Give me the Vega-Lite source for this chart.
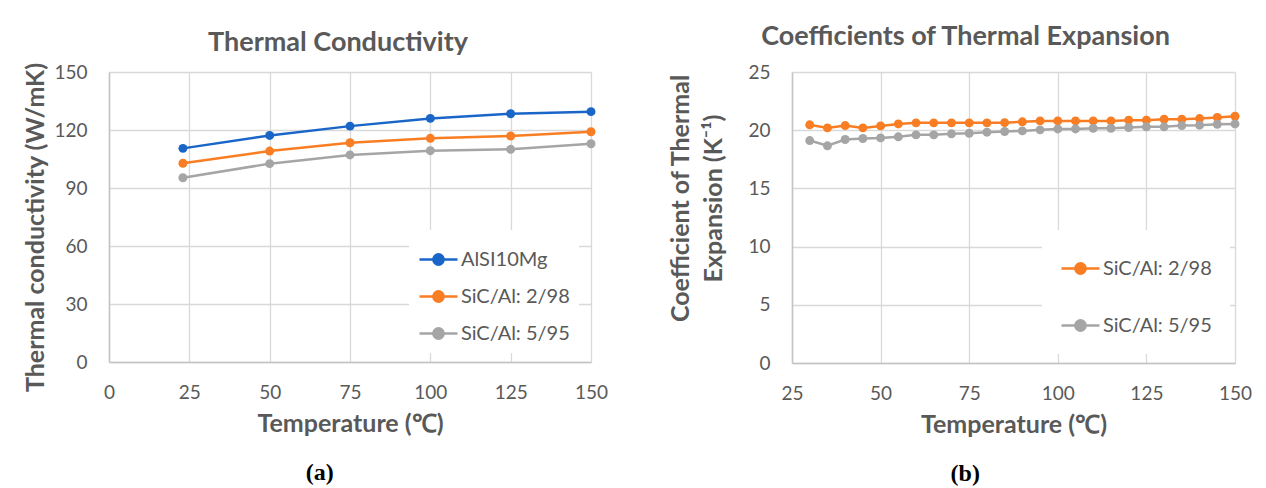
{
  "$schema": "https://vega.github.io/schema/vega-lite/v6.json",
  "padding": {"left": 23, "top": 23, "right": 4, "bottom": 0},
  "datasets": {
    "tc": [
      {"T": 23, "material": "AlSI10Mg", "value": 110.5},
      {"T": 50, "material": "AlSI10Mg", "value": 117.2},
      {"T": 75, "material": "AlSI10Mg", "value": 122.0},
      {"T": 100, "material": "AlSI10Mg", "value": 126.0},
      {"T": 125, "material": "AlSI10Mg", "value": 128.4},
      {"T": 150, "material": "AlSI10Mg", "value": 129.5},
      {"T": 23, "material": "SiC/Al: 2/98", "value": 102.8},
      {"T": 50, "material": "SiC/Al: 2/98", "value": 109.1},
      {"T": 75, "material": "SiC/Al: 2/98", "value": 113.4},
      {"T": 100, "material": "SiC/Al: 2/98", "value": 115.7},
      {"T": 125, "material": "SiC/Al: 2/98", "value": 116.9},
      {"T": 150, "material": "SiC/Al: 2/98", "value": 119.1},
      {"T": 23, "material": "SiC/Al: 5/95", "value": 95.3},
      {"T": 50, "material": "SiC/Al: 5/95", "value": 102.6},
      {"T": 75, "material": "SiC/Al: 5/95", "value": 107.1},
      {"T": 100, "material": "SiC/Al: 5/95", "value": 109.3},
      {"T": 125, "material": "SiC/Al: 5/95", "value": 110.0},
      {"T": 150, "material": "SiC/Al: 5/95", "value": 112.9}
    ],
    "cte": [
      {"T": 30, "material": "SiC/Al: 2/98", "value": 20.46},
      {"T": 35, "material": "SiC/Al: 2/98", "value": 20.2},
      {"T": 40, "material": "SiC/Al: 2/98", "value": 20.4},
      {"T": 45, "material": "SiC/Al: 2/98", "value": 20.2},
      {"T": 50, "material": "SiC/Al: 2/98", "value": 20.37},
      {"T": 55, "material": "SiC/Al: 2/98", "value": 20.54},
      {"T": 60, "material": "SiC/Al: 2/98", "value": 20.63},
      {"T": 65, "material": "SiC/Al: 2/98", "value": 20.63},
      {"T": 70, "material": "SiC/Al: 2/98", "value": 20.63},
      {"T": 75, "material": "SiC/Al: 2/98", "value": 20.63},
      {"T": 80, "material": "SiC/Al: 2/98", "value": 20.63},
      {"T": 85, "material": "SiC/Al: 2/98", "value": 20.65},
      {"T": 90, "material": "SiC/Al: 2/98", "value": 20.72},
      {"T": 95, "material": "SiC/Al: 2/98", "value": 20.8},
      {"T": 100, "material": "SiC/Al: 2/98", "value": 20.8},
      {"T": 105, "material": "SiC/Al: 2/98", "value": 20.8},
      {"T": 110, "material": "SiC/Al: 2/98", "value": 20.8},
      {"T": 115, "material": "SiC/Al: 2/98", "value": 20.8},
      {"T": 120, "material": "SiC/Al: 2/98", "value": 20.86},
      {"T": 125, "material": "SiC/Al: 2/98", "value": 20.86},
      {"T": 130, "material": "SiC/Al: 2/98", "value": 20.94},
      {"T": 135, "material": "SiC/Al: 2/98", "value": 20.94},
      {"T": 140, "material": "SiC/Al: 2/98", "value": 21.0},
      {"T": 145, "material": "SiC/Al: 2/98", "value": 21.1},
      {"T": 150, "material": "SiC/Al: 2/98", "value": 21.2},
      {"T": 30, "material": "SiC/Al: 5/95", "value": 19.11},
      {"T": 35, "material": "SiC/Al: 5/95", "value": 18.66},
      {"T": 40, "material": "SiC/Al: 5/95", "value": 19.2},
      {"T": 45, "material": "SiC/Al: 5/95", "value": 19.29},
      {"T": 50, "material": "SiC/Al: 5/95", "value": 19.34},
      {"T": 55, "material": "SiC/Al: 5/95", "value": 19.43},
      {"T": 60, "material": "SiC/Al: 5/95", "value": 19.6},
      {"T": 65, "material": "SiC/Al: 5/95", "value": 19.6},
      {"T": 70, "material": "SiC/Al: 5/95", "value": 19.69},
      {"T": 75, "material": "SiC/Al: 5/95", "value": 19.74},
      {"T": 80, "material": "SiC/Al: 5/95", "value": 19.83},
      {"T": 85, "material": "SiC/Al: 5/95", "value": 19.89},
      {"T": 90, "material": "SiC/Al: 5/95", "value": 19.94},
      {"T": 95, "material": "SiC/Al: 5/95", "value": 20.03},
      {"T": 100, "material": "SiC/Al: 5/95", "value": 20.11},
      {"T": 105, "material": "SiC/Al: 5/95", "value": 20.11},
      {"T": 110, "material": "SiC/Al: 5/95", "value": 20.17},
      {"T": 115, "material": "SiC/Al: 5/95", "value": 20.17},
      {"T": 120, "material": "SiC/Al: 5/95", "value": 20.23},
      {"T": 125, "material": "SiC/Al: 5/95", "value": 20.29},
      {"T": 130, "material": "SiC/Al: 5/95", "value": 20.29},
      {"T": 135, "material": "SiC/Al: 5/95", "value": 20.4},
      {"T": 140, "material": "SiC/Al: 5/95", "value": 20.43},
      {"T": 145, "material": "SiC/Al: 5/95", "value": 20.51},
      {"T": 150, "material": "SiC/Al: 5/95", "value": 20.54}
    ]
  },
  "hconcat": [
    {
      "title": {"text": "(a)", "orient": "bottom", "anchor": "middle", "font": "Liberation Serif", "fontSize": 24, "fontWeight": "bold", "color": "#000000", "offset": 25, "dx": 4},
      "vconcat": [
        {
          "width": 482,
          "height": 290,
          "title": {"text": "Thermal Conductivity", "frame": "group", "anchor": "middle", "dx": -12, "offset": 5},
          "data": {"name": "tc"},
          "mark": {"type": "line", "strokeWidth": 2.5, "point": {"filled": true, "size": 80, "opacity": 1}},
          "encoding": {
            "x": {"field": "T", "type": "quantitative", "scale": {"domain": [0, 150], "nice": false, "zero": false}, "axis": {"values": [0, 25, 50, 75, 100, 125, 150], "title": "Temperature (℃)"}},
            "y": {"field": "value", "type": "quantitative", "scale": {"domain": [0, 150], "nice": false}, "axis": {"values": [0, 30, 60, 90, 120, 150], "title": "Thermal conductivity (W/mK)", "titlePadding": 5, "titleY": 155}},
            "color": {
              "field": "material", "type": "nominal",
              "scale": {"domain": ["AlSI10Mg", "SiC/Al: 2/98", "SiC/Al: 5/95"], "range": ["#1A66C8", "#F97D23", "#A5A5A5"]},
              "legend": {
                "title": null, "orient": "none", "legendX": 300, "legendY": 158, "padding": 9, "rowPadding": 6,
                "encode": {"symbols": {"update": {"fill": {"signal": "datum.value == 'AlSI10Mg' ? '#1A66C8' : datum.value == 'SiC/Al: 2/98' ? '#F97D23' : '#A5A5A5'"}, "fillOpacity": {"value": 1}, "opacity": {"value": 1}}}}
              }
            }
          }
        }
      ]
    },
    {
      "title": {"text": "(b)", "orient": "bottom", "anchor": "middle", "font": "Liberation Serif", "fontSize": 24, "fontWeight": "bold", "color": "#000000", "offset": 25, "dx": 5},
      "vconcat": [
        {
          "width": 443,
          "height": 291,
          "title": {"text": "Coefficients of Thermal Expansion", "frame": "group", "anchor": "middle", "dx": -48, "dy": -7, "offset": 5},
          "data": {"name": "cte"},
          "mark": {"type": "line", "strokeWidth": 2.5, "point": {"filled": true, "size": 80, "opacity": 1}},
          "encoding": {
            "x": {"field": "T", "type": "quantitative", "scale": {"domain": [25, 150], "nice": false, "zero": false}, "axis": {"values": [25, 50, 75, 100, 125, 150], "title": "Temperature (℃)"}},
            "y": {"field": "value", "type": "quantitative", "scale": {"domain": [0, 25], "nice": false}, "axis": {"values": [0, 5, 10, 15, 20, 25], "title": ["Coefficient of Thermal", "Expansion (K⁻¹)"], "titleLineHeight": 33, "titlePadding": 21, "titleY": 126}},
            "color": {
              "field": "material", "type": "nominal",
              "scale": {"domain": ["SiC/Al: 2/98", "SiC/Al: 5/95"], "range": ["#F97D23", "#A5A5A5"]},
              "legend": {
                "title": null, "orient": "none", "legendX": 250, "legendY": 158, "padding": 18, "rowPadding": 26,
                "encode": {"symbols": {"update": {"fill": {"signal": "datum.value == 'SiC/Al: 2/98' ? '#F97D23' : '#A5A5A5'"}, "fillOpacity": {"value": 1}, "opacity": {"value": 1}}}}
              }
            }
          }
        }
      ]
    }
  ],
  "spacing": 60,
  "resolve": {"scale": {"color": "independent", "x": "independent", "y": "independent"}, "legend": {"color": "independent"}},
  "config": {
    "font": "Lato",
    "view": {"stroke": null},
    "axis": {
      "labelFont": "Lato", "labelFontSize": 19, "labelColor": "#595959", "labelFlush": false, "labelOverlap": false,
      "titleFont": "Lato", "titleFontSize": 25, "titleFontWeight": "bold", "titleColor": "#595959",
      "gridColor": "#D9D9D9", "gridWidth": 1.3, "domainColor": "#C4C4C4", "domainWidth": 1.5, "ticks": false
    },
    "axisX": {"labelPadding": 21, "titlePadding": 9},
    "axisY": {"labelPadding": 22},
    "title": {"font": "Lato", "fontSize": 27, "fontWeight": "bold", "color": "#595959"},
    "legend": {
      "fillColor": "white", "labelFont": "Lato", "labelFontSize": 20, "labelColor": "#595959", "labelOffset": 2,
      "symbolType": "M-1,0L1,0M-0.27,0A0.27,0.27,0,1,1,0.27,0A0.27,0.27,0,1,1,-0.27,0Z",
      "symbolSize": 1444, "symbolStrokeWidth": 2.5
    }
  }
}
